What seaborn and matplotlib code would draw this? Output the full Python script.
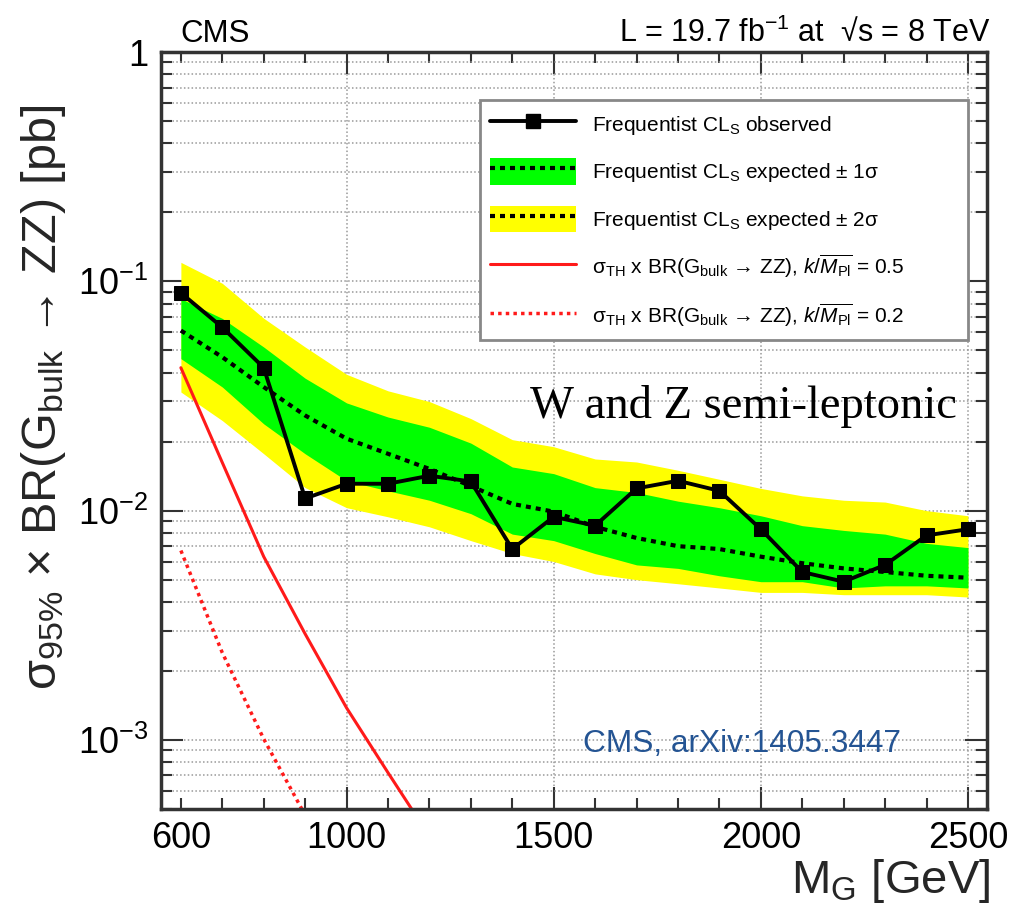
import math
import matplotlib
matplotlib.use("Agg")
import matplotlib.pyplot as plt
import seaborn as sns
from matplotlib.ticker import FixedLocator, MultipleLocator, LogLocator, FuncFormatter, NullFormatter
from matplotlib.patches import Patch
from matplotlib.lines import Line2D

# ---------------- data ----------------
mass = [600, 700, 800, 900, 1000, 1100, 1200, 1300, 1400, 1500,
        1600, 1700, 1800, 1900, 2000, 2100, 2200, 2300, 2400, 2500]
observed = [0.089, 0.063, 0.042, 0.0113, 0.0131, 0.0131, 0.0142, 0.0134, 0.0068, 0.0094,
            0.0086, 0.0125, 0.0135, 0.0122, 0.0083, 0.0054, 0.0049, 0.0058, 0.0078, 0.0083]
expected = [0.061, 0.0467, 0.0346, 0.026, 0.0206, 0.0177, 0.0152, 0.0128, 0.0107, 0.0099,
            0.0085, 0.0076, 0.0070, 0.0068, 0.0063, 0.0059, 0.0056, 0.0054, 0.0052, 0.0051]
exp_1sig_up = [0.084, 0.0689, 0.0517, 0.0378, 0.0295, 0.0256, 0.0231, 0.0197, 0.0155, 0.0145,
               0.0126, 0.0120, 0.0110, 0.0103, 0.0095, 0.0086, 0.0082, 0.0079, 0.0072, 0.0069]
exp_1sig_dn = [0.046, 0.0346, 0.0239, 0.0177, 0.0135, 0.0122, 0.0111, 0.0097, 0.0079, 0.0074,
               0.0065, 0.0058, 0.0056, 0.0052, 0.0049, 0.0049, 0.0046, 0.0047, 0.0047, 0.0046]
exp_2sig_up = [0.121, 0.098, 0.069, 0.0517, 0.0393, 0.0333, 0.0299, 0.0252, 0.0204, 0.0190,
               0.0168, 0.0163, 0.0150, 0.0137, 0.0125, 0.0116, 0.0111, 0.0109, 0.0100, 0.0095]
exp_2sig_dn = [0.0329, 0.0247, 0.0177, 0.0126, 0.0103, 0.0094, 0.0085, 0.0074, 0.0065, 0.0060,
               0.0053, 0.0050, 0.0048, 0.0046, 0.0044, 0.0044, 0.0043, 0.0043, 0.0043, 0.0042]

theory_mass = [600, 700, 800, 900, 1000, 1100, 1200]
theory_k05 = [0.042, 0.0162, 0.0063, 0.0029, 0.00138, 0.00072, 0.00038]
theory_k02 = [0.0067, 0.0024, 0.00101, 0.00047, 0.00022, 0.00011, 0.00006]

x_tick_labels = [600, 1000, 1500, 2000, 2500]
y_tick_values = [1e-3, 1e-2, 1e-1, 1.0]

legend_labels = [
    r"Frequentist CL$_{\mathrm{S}}$ observed",
    r"Frequentist CL$_{\mathrm{S}}$ expected ± 1σ",
    r"Frequentist CL$_{\mathrm{S}}$ expected ± 2σ",
    r"σ$_{\mathrm{TH}}$ x BR(G$_{\mathrm{bulk}}$ → ZZ), $k/\overline{M_{\mathrm{Pl}}}$ = 0.5",
    r"σ$_{\mathrm{TH}}$ x BR(G$_{\mathrm{bulk}}$ → ZZ), $k/\overline{M_{\mathrm{Pl}}}$ = 0.2",
]

# ---------------- style ----------------
sns.set_theme(style="ticks")
plt.rcParams['font.family'] = ['Liberation Sans', 'DejaVu Sans']
plt.rcParams['mathtext.fontset'] = 'custom'
plt.rcParams['mathtext.rm'] = 'Liberation Sans'
plt.rcParams['mathtext.it'] = 'Liberation Sans:italic'
plt.rcParams['mathtext.bf'] = 'Liberation Sans:bold'
plt.rcParams['mathtext.sf'] = 'Liberation Sans'
plt.rcParams['text.color'] = 'black'
plt.rcParams['axes.unicode_minus'] = False

GREEN = '#00ff00'
YELLOW = '#ffff00'
RED = '#ff1a1a'
DOT = (0, (1.2, 1.2))

W, H = 1034, 918
fig = plt.figure(figsize=(W / 100, H / 100), dpi=100)
L, R, T, B = 161, 987, 52, 809
ax = fig.add_axes([L / W, 1 - B / H, (R - L) / W, (B - T) / H])
ax.set_yscale('log')

# bands
ax.fill_between(mass, exp_2sig_dn, exp_2sig_up, color=YELLOW, lw=0, zorder=2)
ax.fill_between(mass, exp_1sig_dn, exp_1sig_up, color=GREEN, lw=0, zorder=3)

# lines
sns.lineplot(x=mass, y=expected, ax=ax, color='black', lw=3, linestyle=DOT,
             dash_capstyle='butt', zorder=4, legend=False)
sns.lineplot(x=theory_mass, y=theory_k05, ax=ax, color=RED, lw=2.2, zorder=4, legend=False)
sns.lineplot(x=theory_mass, y=theory_k02, ax=ax, color=RED, lw=2.5, linestyle=(0, (1, 1.2)),
             zorder=4, legend=False)
sns.lineplot(x=mass, y=observed, ax=ax, color='black', lw=2.8, marker='s', markersize=10,
             markeredgecolor='black', markerfacecolor='black', zorder=6, legend=False)

ax.set_xlim(552, 2546)
ax.set_ylim(5e-4, 1)

# ticks
ax.xaxis.set_major_locator(FixedLocator([v for v in x_tick_labels if v != 600]))
ax.xaxis.set_minor_locator(MultipleLocator(100))
ax.xaxis.set_major_formatter(FuncFormatter(lambda v, p: f"{int(round(v))}"))
ax.xaxis.set_minor_formatter(FuncFormatter(lambda v, p: "600" if abs(v - 600) < 1 else ""))
ax.yaxis.set_major_locator(FixedLocator(y_tick_values))
ax.yaxis.set_minor_locator(LogLocator(base=10, subs=range(2, 10), numticks=20))
ax.yaxis.set_minor_formatter(NullFormatter())


def yfmt(v, p):
    if abs(v - 1) < 1e-9:
        return "1"
    e = int(round(math.log10(v)))
    return r"10$^{\mathregular{%d}}$" % e


ax.yaxis.set_major_formatter(FuncFormatter(yfmt))

ax.tick_params(which='both', direction='in', top=True, right=True, color='#333333',
               width=1.5, labelsize=26, labelcolor='black')
ax.tick_params(which='major', length=16)
ax.tick_params(which='minor', length=8)
ax.tick_params(axis='x', which='both', pad=9)
ax.tick_params(axis='y', which='both', pad=9)

ax.grid(which='major', axis='x', color='#999999', lw=1.1, ls=(0, (1, 1.5)), zorder=1)
ax.grid(which='both', axis='y', color='#999999', lw=1.1, ls=(0, (1, 1.5)), zorder=1)
ax.set_axisbelow(True)

for s in ax.spines.values():
    s.set_linewidth(2.5)
    s.set_color('#333333')
    s.set_zorder(10)

# labels
ax.set_ylabel(r"σ$_{95\%}$ × BR(G$_{\mathrm{bulk}}$ → ZZ) [pb]", fontsize=35)
ax.yaxis.set_label_coords(-0.112, 0.544)
ax.set_xlabel(r"M$_{\mathrm{G}}$ [GeV]", fontsize=34, loc='right')
ax.xaxis.set_label_coords(1.004, -0.063)

# texts
fig.text(180 / W, 1 - 42 / H, "CMS", fontsize=22.5)
fig.text(990 / W, 1 - 42 / H, r"L = 19.7 fb$^{\mathregular{-1}}$ at  √s = 8 TeV", fontsize=22, ha='right')
ax.text(0.447, 0.5165, "W and Z semi-leptonic", transform=ax.transAxes, fontsize=33.5,
        family=['Liberation Serif', 'DejaVu Serif'], va='baseline', zorder=7)
ax.text(0.511, 0.0753, "CMS, arXiv:1405.3447", transform=ax.transAxes, fontsize=22.8,
        color='#245493', va='baseline', zorder=7)

# legend
line_exp = Line2D([], [], color='black', lw=3, linestyle=DOT, dash_capstyle='butt')
handles = [
    Line2D([], [], color='black', lw=2.8, marker='s', markersize=10),
    (Patch(facecolor=GREEN, edgecolor='none'), line_exp),
    (Patch(facecolor=YELLOW, edgecolor='none'), line_exp),
    Line2D([], [], color=RED, lw=2.2),
    Line2D([], [], color=RED, lw=2.5, linestyle=(0, (1, 1.2))),
]
leg = ax.legend(handles, legend_labels, loc='upper left',
                bbox_to_anchor=(480 / W, 1 - 337 / H, 488 / W, 237 / H),
                bbox_transform=fig.transFigure, mode='expand', borderaxespad=0,
                fontsize=15, handlelength=4.1, handleheight=1.6, labelspacing=1.0,
                handletextpad=0.77, borderpad=0.5, fancybox=False, framealpha=1,
                edgecolor='#888888')
leg.get_frame().set_linewidth(2)
leg.set_zorder(8)

fig.savefig("out.png", dpi=100)
